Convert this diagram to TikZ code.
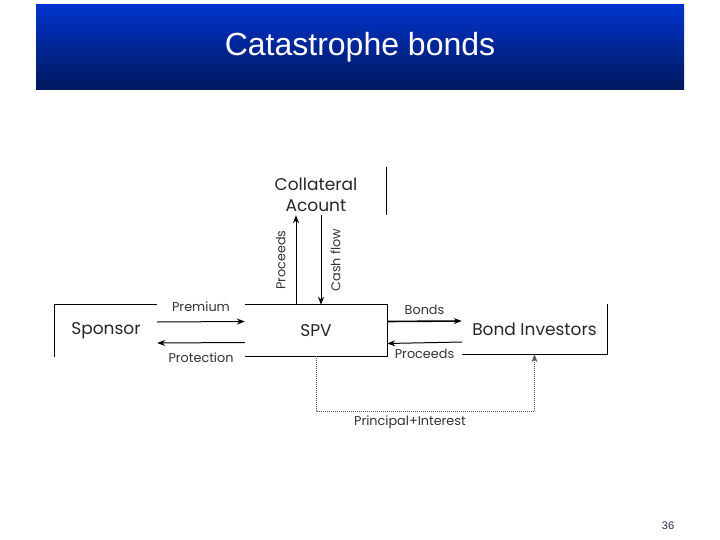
\documentclass[tikz,border=0pt]{standalone}
\usepackage{fontspec}
\setmainfont{Poppins}
\newfontfamily\titlefont{Liberation Sans}
\usetikzlibrary{arrows.meta, positioning}
\definecolor{barTop}{RGB}{0,51,204}
\definecolor{barBottom}{RGB}{0,24,92}
\definecolor{pageNum}{RGB}{40,40,90}
\tikzset{
    >={Stealth[length=8pt,width=6pt]},
    % Boxes
    titlebar/.style={rectangle, top color=barTop, bottom color=barBottom,
                     minimum width=648pt, minimum height=85pt, text=white,
                     font=\titlefont\fontsize{32}{36}\selectfont},
    party/.style={rectangle, inner sep=0pt, align=center,
                  font=\fontsize{17}{21}\selectfont, text=black!85},
    frame/.style={line width=1pt},
    % Flow & Labels
    flow/.style={->, line width=1pt},
    lbl/.style={font=\fontsize{12.8}{14}\selectfont, text=black!80, inner sep=1pt},
    dotflow/.style={->, densely dotted, line width=1pt, black!65}
}
\begin{document}
\begin{tikzpicture}[x=1pt, y=-1pt]
\useasboundingbox (0,0) rectangle (720,540);

\node[titlebar] (title) at (360,47.5) {Catastrophe bonds};

\node[party, minimum width=102pt, minimum height=52pt] (sponsor) at (106,331) {Sponsor};
\node[party, minimum width=142pt, minimum height=51pt] (spv) at (316,330.5) {SPV};
\node[party, minimum width=140pt, minimum height=40pt] (coll) at (316,195) {Collateral\\Acount};
\node[party, minimum width=145pt, minimum height=50pt] (inv) at (534.5,329) {Bond Investors};

% partial frames
\draw[frame] (sponsor.north east) -- (sponsor.north west) -- (sponsor.south west);
\draw[frame] (spv.north west) -- (spv.north east) -- (spv.south east) -- (spv.south west);
\draw[frame] ([yshift=8pt]coll.north east) -- (coll.south east);
\draw[frame] (inv.north east) -- (inv.south east) -- (inv.south west);

\draw[flow] ([yshift=9pt]sponsor.east) -- node[lbl, above=9pt] {Premium} ([yshift=9pt]spv.west);
\draw[flow] ([yshift=-12pt]spv.west) -- node[lbl, below=9pt] {Protection} ([yshift=-12pt]sponsor.east);
\draw[flow, line width=1.6pt] ([yshift=9pt]spv.east) -- node[lbl, above=5pt] {Bonds} ([yshift=8pt]inv.west);
\draw[flow] ([yshift=-13pt]inv.west) -- node[lbl, below=5pt] {Proceeds} ([yshift=-13pt]spv.east);

\draw[flow] ([xshift=-20pt]spv.north) -- node[lbl, sloped, above=9pt] {Proceeds} ([xshift=-20pt]coll.south);
\draw[flow, <-] ([xshift=5pt]spv.north) -- node[lbl, sloped, below=8pt] {Cash flow} ([xshift=5pt]coll.south);

\draw[dotflow] (spv.south) -- ++(0,55) coordinate (turn) -| node[lbl, pos=0.215, below=3pt] {Principal+Interest} (inv.south);

\node[font=\titlefont\fontsize{11}{13}\selectfont, text=pageNum] (page) at (668,526) {36};
\end{tikzpicture}
\end{document}
